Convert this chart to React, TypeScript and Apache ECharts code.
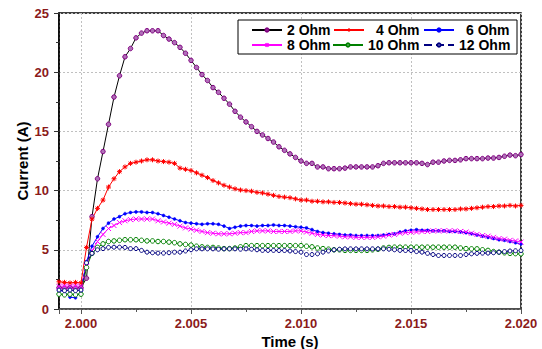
import React, { useEffect, useRef } from "react";
import * as echarts from "echarts";

// Sampling grid of the recording (s)
const tStart = 1.999;
const tStep = 0.00025;

const seriesNames = ["2 Ohm", "4 Ohm", "6 Ohm", "8 Ohm", "10 Ohm", "12 Ohm"];

const ohm2 = [
  1.8, 1.75, 1.8, 1.75, 1.8, 2.6, 7.8, 11.0, 13.3, 15.6, 17.9, 19.7, 21.3, 22.0, 22.9, 23.3, 23.5, 23.5, 23.5, 23.1,
  22.8, 22.5, 22.1, 21.6, 21.0, 20.4, 19.8, 19.3, 18.7, 18.3, 17.8, 17.3, 16.7, 16.2, 15.8, 15.4, 15.0, 14.7, 14.4, 14.1,
  13.7, 13.4, 13.1, 12.8, 12.5, 12.3, 12.3, 12.0, 12.0, 11.85, 11.85, 11.85, 11.9, 12.0, 12.0, 12.0, 12.0, 12.0, 12.1, 12.3,
  12.35, 12.35, 12.35, 12.35, 12.35, 12.35, 12.3, 12.2, 12.4, 12.4, 12.5, 12.55, 12.55, 12.6, 12.7, 12.7, 12.7, 12.7, 12.75, 12.75,
  12.8, 12.9, 13.0, 12.95, 13.05,
];
const ohm4 = [
  2.3, 2.25, 2.2, 2.25, 2.2, 5.2, 7.6, 8.5, 9.2, 10.3, 11.0, 11.6, 12.0, 12.3, 12.4, 12.5, 12.6, 12.6, 12.5, 12.45,
  12.4, 12.3, 11.9, 11.8, 11.7, 11.5, 11.3, 11.1, 10.85, 10.65, 10.45, 10.3, 10.15, 10.05, 10.0, 9.95, 9.85, 9.8, 9.7, 9.6,
  9.5, 9.45, 9.4, 9.3, 9.2, 9.2, 9.1, 9.1, 9.05, 9.05, 9.0, 9.0, 8.95, 8.9, 8.85, 8.85, 8.8, 8.75, 8.7, 8.7,
  8.65, 8.65, 8.6, 8.6, 8.55, 8.5, 8.45, 8.4, 8.4, 8.4, 8.4, 8.4, 8.4, 8.45, 8.45, 8.5, 8.55, 8.6, 8.65, 8.65,
  8.7, 8.7, 8.75, 8.7, 8.75,
];
const ohm6 = [
  1.55, 1.5, 1.0, 0.95, 1.5, 4.0, 5.3, 6.1, 6.8, 7.25, 7.6, 7.8, 8.05, 8.15, 8.2, 8.2, 8.15, 8.15, 8.05, 7.9,
  7.75, 7.6, 7.45, 7.3, 7.25, 7.2, 7.15, 7.2, 7.2, 7.15, 7.0, 6.8, 6.9, 7.0, 7.05, 7.05, 7.0, 7.05, 7.05, 7.1,
  7.05, 7.05, 7.0, 6.95, 6.9, 6.85, 6.7, 6.55, 6.45, 6.4, 6.35, 6.3, 6.25, 6.25, 6.2, 6.2, 6.2, 6.2, 6.2, 6.25,
  6.3, 6.35, 6.5, 6.6, 6.65, 6.7, 6.65, 6.65, 6.6, 6.6, 6.6, 6.55, 6.55, 6.5, 6.45, 6.35, 6.25, 6.15, 6.05, 5.95,
  5.85, 5.8, 5.7, 5.6, 5.5,
];
const ohm8 = [
  1.9, 1.95, 1.9, 1.95, 1.9, 3.6, 4.9, 5.7, 6.3, 6.8, 7.05, 7.3, 7.45, 7.55, 7.6, 7.6, 7.6, 7.6, 7.45, 7.35,
  7.25, 7.15, 7.0, 6.85, 6.75, 6.65, 6.55, 6.45, 6.4, 6.35, 6.35, 6.35, 6.4, 6.45, 6.45, 6.55, 6.6, 6.6, 6.6, 6.55,
  6.55, 6.55, 6.55, 6.6, 6.6, 6.5, 6.4, 6.3, 6.25, 6.2, 6.2, 6.15, 6.1, 6.1, 6.05, 6.05, 6.05, 6.05, 6.1, 6.15,
  6.25, 6.3, 6.4, 6.45, 6.5, 6.5, 6.55, 6.55, 6.6, 6.6, 6.6, 6.6, 6.6, 6.55, 6.5, 6.4, 6.3, 6.2, 6.15, 6.05,
  5.95, 5.9, 5.8, 5.75, 5.65,
];
const ohm10 = [
  1.25, 1.2, 1.25, 1.2, 1.25, 3.5, 4.7, 5.2, 5.5, 5.7, 5.75, 5.8, 5.85, 5.85, 5.85, 5.8, 5.75, 5.75, 5.7, 5.7,
  5.65, 5.6, 5.5, 5.45, 5.4, 5.3, 5.25, 5.2, 5.2, 5.15, 5.1, 5.1, 5.15, 5.25, 5.35, 5.35, 5.35, 5.35, 5.35, 5.35,
  5.35, 5.35, 5.35, 5.35, 5.35, 5.3, 5.25, 5.15, 5.1, 5.05, 5.0, 5.0, 4.95, 4.95, 4.95, 4.95, 4.95, 5.0, 5.05, 5.15,
  5.2, 5.22, 5.22, 5.22, 5.22, 5.22, 5.22, 5.22, 5.22, 5.22, 5.22, 5.22, 5.22, 5.15, 5.1, 5.08, 5.08, 5.0, 4.95, 4.85,
  4.8, 4.75, 4.7, 4.68, 4.66,
];
const ohm12 = [
  1.6, 1.55, 1.6, 1.55, 1.6, 3.9, 4.7, 5.0, 5.1, 5.2, 5.22, 5.22, 5.2, 5.1, 5.1, 4.95, 4.8, 4.75, 4.72, 4.72,
  4.75, 4.8, 4.8, 4.9, 5.0, 5.08, 5.08, 5.08, 5.08, 5.05, 5.08, 5.08, 5.08, 5.05, 5.08, 5.05, 5.0, 4.95, 4.95, 4.95,
  4.94, 4.94, 4.9, 4.85, 4.8, 4.6, 4.6, 4.66, 4.8, 4.9, 5.0, 5.05, 5.08, 5.08, 5.08, 5.08, 5.08, 5.08, 5.08, 5.08,
  5.05, 5.0, 4.95, 4.94, 4.94, 4.85, 4.8, 4.7, 4.6, 4.52, 4.52, 4.52, 4.52, 4.52, 4.6, 4.66, 4.7, 4.72, 4.72, 4.75,
  4.8, 4.85, 4.9, 4.92, 4.94,
];

const seriesValues = [ohm2, ohm4, ohm6, ohm8, ohm10, ohm12];

const xMin = 1.999;
const xMax = 2.02;
const yMin = 0;
const yMax = 25;
const yInterval = 5;

const xLabel = "Time (s)";
const yLabel = "Current (A)";

const LABEL_COLOR = "#8b1a1a";
const FONT = "'Liberation Sans', Arial, sans-serif";

const asteriskPath = "path://M0,5L10,5M5,0L5,10M1.5,1.5L8.5,8.5M8.5,1.5L1.5,8.5";
const crossPath = "path://M0,0L10,10M10,0L0,10";

const styles = [
  { line: "#000000", lineType: "solid", symbol: "circle", size: 4.5, fill: "#b070b8", border: "#800080", bw: 1 },
  { line: "#ff0000", lineType: "solid", symbol: asteriskPath, size: 5, fill: "#ff0000", border: "#ff0000", bw: 1 },
  { line: "#0000ff", lineType: "solid", symbol: "circle", size: 3, fill: "#0000ff", border: "#0000ff", bw: 0.5 },
  { line: "#ff00ff", lineType: "solid", symbol: crossPath, size: 5, fill: "#ff00ff", border: "#ff00ff", bw: 1 },
  { line: "#008000", lineType: "solid", symbol: "circle", size: 4.5, fill: "#ffffff", border: "#008000", bw: 1 },
  { line: "#000080", lineType: "dashed", symbol: "circle", size: 4, fill: "#ffffff", border: "#000080", bw: 1 },
];

export default function App() {
  const ref = useRef<HTMLDivElement>(null);

  useEffect(() => {
    if (!ref.current) return;
    const chart = echarts.init(ref.current, undefined, { renderer: "svg" });

    const series = seriesNames.map((name, k) => {
      const st = styles[k];
      return {
        name,
        type: "line",
        data: seriesValues[k].map((v, i) => [Number((tStart + i * tStep).toFixed(5)), v]),
        symbol: st.symbol,
        symbolSize: st.size,
        showAllSymbol: true,
        lineStyle: { color: st.line, width: 1, type: st.lineType },
        itemStyle: { color: st.fill, borderColor: st.border, borderWidth: st.bw },
        emphasis: { disabled: true },
      };
    });

    const legendPos = [
      { left: 251, top: 23, pad: 0 },
      { left: 333, top: 23, pad: 7 },
      { left: 423, top: 23, pad: 7 },
      { left: 251, top: 38, pad: 0 },
      { left: 332, top: 38, pad: 0 },
      { left: 423, top: 38, pad: 0 },
    ];

    chart.setOption({
      animation: false,
      backgroundColor: "#ffffff",
      textStyle: { fontFamily: FONT },
      grid: {
        left: 59,
        right: 21,
        top: 13,
        bottom: 40,
        show: true,
        borderColor: "#000",
        borderWidth: 1.5,
        containLabel: false,
        outerBoundsMode: "none",
      },
      graphic: [
        {
          type: "rect",
          z: 3,
          shape: { x: 238, y: 20, width: 279, height: 34 },
          style: { fill: "#ffffff", stroke: "#000000", lineWidth: 1 },
        },
      ],
      legend: seriesNames.map((name, k) => ({
        data: [name],
        left: legendPos[k].left,
        top: legendPos[k].top,
        padding: 0,
        itemWidth: 30,
        itemHeight: 4,
        selectedMode: false,
        z: 5,
        textStyle: {
          fontFamily: FONT,
          fontWeight: "bold",
          fontSize: 14,
          color: "#000",
          padding: [0, 0, 0, legendPos[k].pad],
        },
      })),
      xAxis: {
        type: "value",
        min: xMin,
        max: xMax,
        name: xLabel,
        nameLocation: "middle",
        nameGap: 24,
        nameMoveOverlap: false,
        nameTextStyle: { fontFamily: FONT, fontWeight: "bold", fontSize: 15, color: "#000", lineHeight: 16 },
        axisLine: { show: true, onZero: false, lineStyle: { color: "#555", width: 1.5 } },
        axisTick: { show: true, inside: false, length: 5, lineStyle: { color: "#555", width: 1 } },
        minorTick: { show: true, splitNumber: 2, length: 3, lineStyle: { color: "#555", width: 1 } },
        axisLabel: {
          showMinLabel: false,
          margin: 8,
          color: LABEL_COLOR,
          fontFamily: FONT,
          fontWeight: "bold",
          fontSize: 13,
          formatter: (v: number) => v.toFixed(3),
        },
        splitLine: { show: true, lineStyle: { color: "#c0c0c0", type: [2, 2], width: 1 } },
      },
      yAxis: {
        type: "value",
        min: yMin,
        max: yMax,
        interval: yInterval,
        name: yLabel,
        nameLocation: "middle",
        nameGap: 29,
        nameMoveOverlap: false,
        nameTextStyle: { fontFamily: FONT, fontWeight: "bold", fontSize: 15, color: "#000", lineHeight: 16 },
        axisLine: { show: true, onZero: false, lineStyle: { color: "#000", width: 1.5 } },
        axisTick: { show: true, inside: false, length: 5, lineStyle: { color: "#333", width: 1 } },
        minorTick: { show: true, splitNumber: 2, length: 3, lineStyle: { color: "#333", width: 1 } },
        axisLabel: {
          margin: 10,
          color: LABEL_COLOR,
          fontFamily: FONT,
          fontWeight: "bold",
          fontSize: 13,
        },
        splitLine: { show: true, lineStyle: { color: "#c0c0c0", type: [2, 2], width: 1 } },
      },
      series,
    });

    return () => {
      chart.dispose();
    };
  }, []);

  return (
    <div
      ref={ref}
      style={{ position: "fixed", left: 0, top: 0, width: 542, height: 349, background: "#fff" }}
    />
  );
}
